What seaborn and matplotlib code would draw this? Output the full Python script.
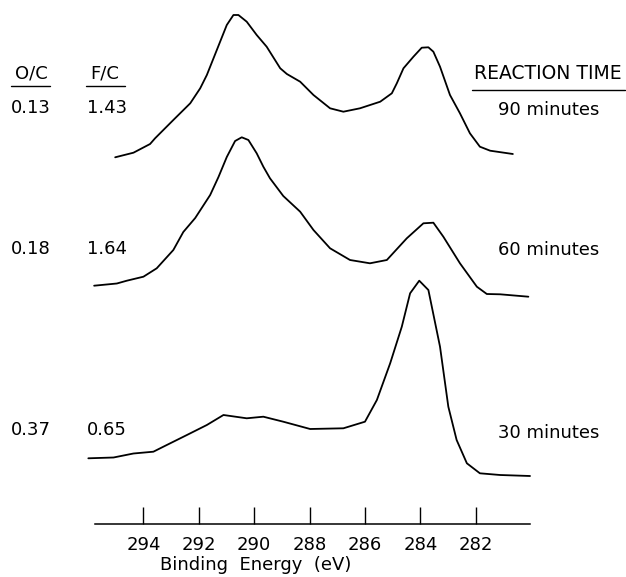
import matplotlib
matplotlib.use("Agg")
import matplotlib.pyplot as plt
from matplotlib.lines import Line2D
import seaborn as sns
import pandas as pd

# ---------------- data (binding energy in eV, stacked intensity in display units) ----
energy_90 = [295.02, 294.36, 293.76, 293.58, 292.92, 292.31, 291.95, 291.71, 291.35, 290.99,
             290.75, 290.57, 290.27, 289.91, 289.55, 289.06, 288.82, 288.34, 287.86, 287.26,
             286.78, 286.18, 285.45, 285.03, 284.85, 284.61, 284.25, 283.95, 283.71, 283.53,
             283.29, 282.93, 282.57, 282.21, 281.85, 281.48, 280.66]
signal_90 = [366.7, 371.3, 380.0, 385.7, 404.0, 420.7, 435.7, 449.0, 474.0, 499.0,
             509.0, 509.0, 502.3, 489.0, 477.3, 455.7, 450.0, 442.3, 429.0, 415.7,
             412.3, 415.7, 422.3, 430.7, 440.7, 455.7, 467.3, 476.3, 476.7, 472.3,
             457.3, 429.0, 410.7, 390.7, 377.3, 373.3, 370.0]

energy_60 = [295.78, 294.96, 294.60, 294.00, 293.52, 292.92, 292.56, 292.13, 291.59, 291.29,
             290.99, 290.69, 290.45, 290.21, 289.91, 289.67, 289.43, 288.95, 288.34, 287.86,
             287.26, 286.54, 285.82, 285.21, 284.49, 283.89, 283.53, 283.17, 282.57, 281.96,
             281.60, 281.12, 280.10]
signal_60 = [238.3, 240.5, 243.3, 247.3, 255.7, 274.0, 292.0, 306.0, 329.0, 347.0,
             367.0, 383.0, 386.7, 384.0, 370.7, 357.3, 345.7, 328.0, 312.3, 294.0,
             275.7, 264.0, 260.7, 264.0, 285.7, 300.7, 301.3, 287.3, 260.7, 237.3,
             230.0, 229.7, 227.3]

energy_30 = [295.99, 295.08, 294.36, 293.64, 293.28, 292.43, 291.71, 291.11, 290.27, 289.67,
             288.95, 287.98, 286.78, 286.00, 285.57, 285.09, 284.67, 284.37, 284.04, 283.71,
             283.29, 282.99, 282.69, 282.32, 281.85, 281.12, 280.04]
signal_30 = [65.7, 66.5, 70.5, 72.3, 77.3, 89.0, 99.0, 109.0, 105.7, 107.3,
             102.3, 95.0, 95.7, 102.3, 124.0, 160.7, 197.3, 230.7, 243.3, 234.0,
             177.3, 117.3, 84.0, 60.7, 50.7, 49.0, 48.0]

tick_values = [294, 292, 290, 288, 286, 284, 282]
tick_labels = ["294", "292", "290", "288", "286", "284", "282"]

oc_values = ["0.13", "0.18", "0.37"]
fc_values = ["1.43", "1.64", "0.65"]
reaction_times = ["90 minutes", "60 minutes", "30 minutes"]

# ---------------- figure --------------------------------------------------------------
sns.set_theme(style="white")
plt.rcParams["font.family"] = ["DejaVu Sans"]

W, H = 626, 577
fig = plt.figure(figsize=(W / 100, H / 100), dpi=100)
fig.patch.set_facecolor("white")

ax_left, ax_right, ax_bottom_px = 85, 535, 524
ax = fig.add_axes([ax_left / W, (H - ax_bottom_px) / H, (ax_right - ax_left) / W, ax_bottom_px / H])
ax.set_facecolor("white")

for e, s in [(energy_90, signal_90), (energy_60, signal_60), (energy_30, signal_30)]:
    df = pd.DataFrame({"energy": e, "signal": s})
    sns.lineplot(data=df, x="energy", y="signal", sort=False, estimator=None,
                 color="black", linewidth=1.3, ax=ax)

ax.set_xlim(296.11, 279.86)
ax.set_ylim(0, 524)

for side in ["left", "right", "top"]:
    ax.spines[side].set_visible(False)
ax.spines["bottom"].set_color("black")
ax.spines["bottom"].set_linewidth(1.1)
ax.spines["bottom"].set_bounds(280.04, 295.74)

ax.set_yticks([])
ax.set_ylabel("")
ax.set_xticks(tick_values)
ax.set_xticklabels(tick_labels)
ax.tick_params(axis="x", direction="in", length=12, width=1.0, color="black",
               labelsize=13, labelcolor="black", pad=9, bottom=True)
ax.set_xlabel("Binding  Energy  (eV)", fontsize=13, color="black", labelpad=1)
ax.xaxis.label.set_x((256 - ax_left) / (ax_right - ax_left))


def ftext(x, y, s, ha="center", size=13):
    fig.text(x / W, 1 - y / H, s, ha=ha, va="baseline", fontsize=size, color="black")


def uline(x0, x1, y):
    fig.add_artist(Line2D([x0 / W, x1 / W], [1 - y / H, 1 - y / H],
                          transform=fig.transFigure, color="black", linewidth=1.0))


# headers
ftext(31, 79, "O/C")
ftext(105, 79, "F/C")
ftext(548, 79, "REACTION TIME", size=13.5)
uline(11, 50, 86)
uline(86, 125, 86)
uline(472, 625, 89.5)

baselines = [113, 253.5, 435]
time_baselines = [115, 255, 438]
for oc, fc, rt, yb, yt in zip(oc_values, fc_values, reaction_times, baselines, time_baselines):
    ftext(31, yb, oc)
    ftext(107, yb, fc)
    ftext(549, yt, rt)

fig.savefig("out.png", dpi=100, facecolor="white")
